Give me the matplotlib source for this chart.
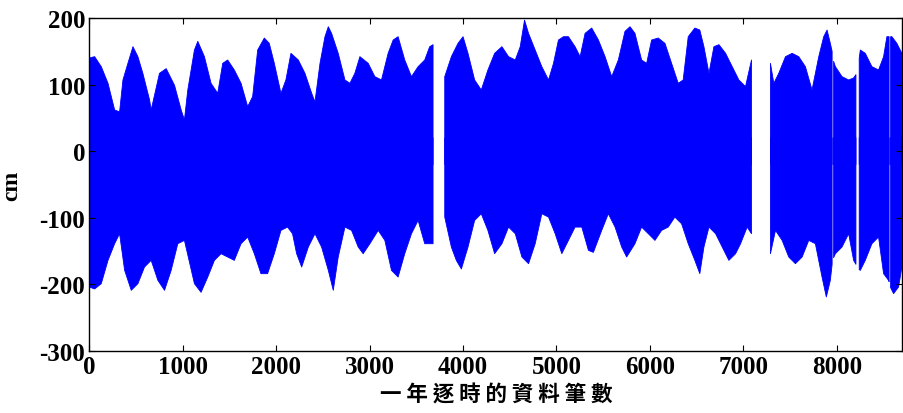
import numpy as np
import matplotlib
matplotlib.use("Agg")
import matplotlib.pyplot as plt

nan = np.nan

# Upper envelope of hourly tide (hour index, cm)
hours_up = [0, 57, 128, 200, 271, 324, 360, 413, 467, 520, 573, 645, 662, 751, 823, 912, 983, 1018,
            1054, 1125, 1161, 1232, 1303, 1374, 1428, 1481, 1552, 1624, 1695, 1748, 1802, 1873, 1926,
            1980, 2051, 2104, 2158, 2237, 2308, 2380, 2415, 2469, 2522, 2558, 2593, 2664, 2736, 2789,
            2842, 2896, 2985, 3056, 3127, 3198, 3252, 3305, 3376, 3448, 3519, 3590, 3643, 3679, 3740,
            3804, 3875, 3946, 4000, 4053, 4124, 4195, 4266, 4338, 4416, 4487, 4559, 4612, 4658, 4701,
            4772, 4843, 4915, 4968, 5021, 5075, 5128, 5199, 5253, 5306, 5377, 5449, 5520, 5591, 5662,
            5733, 5787, 5840, 5911, 5965, 6018, 6089, 6161, 6232, 6303, 6356, 6410, 6481, 6534, 6578,
            6632, 6685, 6739, 6810, 6881, 6952, 7023, 7087, 7190, 7290, 7326, 7379, 7451, 7522, 7593,
            7664, 7735, 7807, 7860, 7896, 7931, 7950, 7958, 7966, 7985, 8056, 8127, 8180, 8205, 8216,
            8240, 8252, 8305, 8376, 8447, 8501, 8536, 8560, 8568, 8576, 8590, 8643, 8697]
upper_cm = [140, 142, 127, 102, 62, 59, 107, 132, 157, 142, 117, 77, 62, 117, 124, 99, 62, 47,
            92, 152, 165, 142, 102, 87, 132, 137, 122, 102, 67, 82, 152, 170, 162,
            132, 87, 107, 147, 137, 117, 87, 74, 132, 172, 187, 177, 147, 107, 102,
            117, 142, 132, 112, 107, 147, 167, 172, 137, 112, 127, 137, 157, 160, nan,
            112, 142, 162, 172, 147, 107, 92, 122, 147, 157, 142, 137, 157, 197, 177,
            152, 127, 107, 132, 167, 172, 172, 157, 142, 177, 185, 167, 142, 112, 137,
            180, 187, 177, 137, 132, 167, 170, 162, 132, 102, 107, 172, 185, 182, 157,
            117, 157, 160, 147, 127, 107, 97, 137, nan, 132, 102, 117, 142, 147, 142,
            127, 92, 142, 172, 182, 162, 150, nan, 135, 127, 112, 107, 110, 115, nan,
            140, 152, 147, 127, 122, 142, 172, 172, nan, 172, 172, 162, 147]

# Lower envelope of hourly tide (hour index, cm)
hours_lo = [0, 57, 128, 200, 271, 324, 378, 449, 520, 591, 662, 734, 805, 876, 947, 1018, 1125, 1196,
            1268, 1339, 1410, 1481, 1552, 1624, 1695, 1766, 1837, 1908, 1980, 2051, 2122, 2175, 2219,
            2273, 2344, 2415, 2486, 2558, 2611, 2664, 2736, 2807, 2878, 2931, 3003, 3092, 3163, 3234,
            3305, 3376, 3448, 3519, 3590, 3679, 3740, 3804, 3875, 3928, 3982, 4053, 4124, 4195, 4266,
            4338, 4416, 4487, 4559, 4630, 4701, 4772, 4843, 4915, 4986, 5057, 5128, 5199, 5271, 5342,
            5395, 5484, 5555, 5627, 5698, 5751, 5840, 5911, 5983, 6054, 6125, 6196, 6267, 6339, 6410,
            6481, 6534, 6578, 6632, 6703, 6774, 6845, 6917, 6970, 7041, 7087, 7190, 7290, 7344, 7415,
            7486, 7557, 7629, 7700, 7771, 7842, 7888, 7931, 7950, 7958, 7966, 7985, 8056, 8127, 8180,
            8205, 8216, 8240, 8252, 8305, 8376, 8447, 8501, 8554, 8560, 8568, 8576, 8608, 8661, 8697]
lower_cm = [-204, -207, -199, -164, -139, -124, -179, -209, -199, -174, -164, -194, -209, -179, -139, -134, -199, -212,
            -189, -164, -154, -159, -164, -139, -129, -154, -184, -184, -154, -119, -114, -124, -154,
            -174, -144, -124, -144, -179, -209, -159, -114, -119, -144, -154, -139, -119, -134, -179,
            -189, -154, -124, -104, -139, -139, nan, -99, -144, -164, -177, -144, -104, -94, -119,
            -154, -139, -114, -124, -159, -169, -139, -94, -99, -124, -154, -134, -114, -114, -149,
            -152, -119, -94, -114, -144, -159, -139, -114, -124, -134, -119, -114, -99, -109, -139,
            -164, -184, -144, -114, -124, -144, -164, -154, -139, -114, -124, nan, -154, -119, -134,
            -159, -169, -159, -134, -139, -189, -219, -194, -170, nan, -160, -154, -144, -124, -164,
            -170, nan, -178, -179, -164, -139, -129, -184, -194, -196, nan, -205, -214, -204, -174]

xticks = [0, 1000, 2000, 3000, 4000, 5000, 6000, 7000, 8000]
yticks = [-300, -200, -100, 0, 100, 200]

plt.rcParams['font.family'] = ['Liberation Serif', 'Noto Sans CJK TC', 'DejaVu Sans']
plt.rcParams['axes.unicode_minus'] = False

fig = plt.figure(figsize=(9.04, 4.14), dpi=100)
ax = fig.add_axes([0.0988, 0.150, 0.8992, 0.804])

blue = (0, 0, 1)
hu = np.array(hours_up, float); up = np.array(upper_cm, float)
hl = np.array(hours_lo, float); lo = np.array(lower_cm, float)
ax.fill_between(hu, np.where(np.isnan(up), nan, -20.0), up, color=blue, lw=0.6, edgecolor=blue)
ax.fill_between(hl, lo, np.where(np.isnan(lo), nan, 20.0), color=blue, lw=0.6, edgecolor=blue)

ax.set_xlim(0, 8700)
ax.set_ylim(-300, 200)
ax.set_xticks(xticks)
ax.set_yticks(yticks)
ax.tick_params(direction='in', length=4, width=0.8, top=True, right=True,
               labelsize=18, pad=3)
for lab in ax.get_xticklabels() + ax.get_yticklabels():
    lab.set_fontweight('bold')
for s in ax.spines.values():
    s.set_linewidth(1.0)

ax.set_ylabel('cm', fontsize=17, fontweight='bold')
ax.yaxis.set_label_coords(-0.082, 0.5)
ax.set_xlabel('一 年 逐 時 的 資 料 筆 數', fontsize=15.5, fontweight='bold',
              family=['Noto Sans CJK TC', 'DejaVu Sans'])
ax.xaxis.set_label_coords(0.5, -0.098)

fig.savefig('out.png', dpi=100)
